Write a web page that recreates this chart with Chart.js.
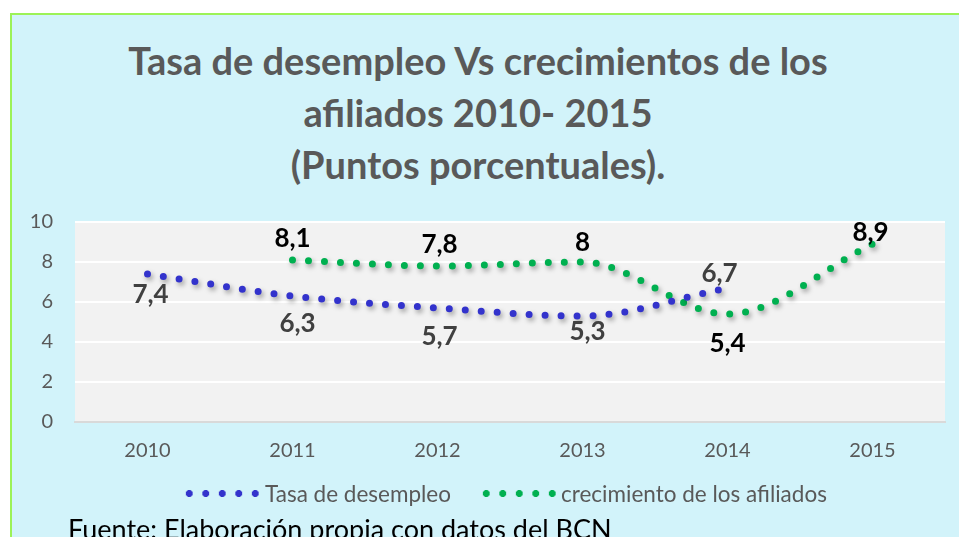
<!DOCTYPE html>
<html>
<head>
<meta charset="utf-8">
<script src="https://cdn.jsdelivr.net/npm/chart.js@4/dist/chart.umd.min.js"></script>
<style>
  html, body { margin: 0; padding: 0; background: #fff; overflow: hidden; }
  body { width: 959px; height: 537px; position: relative; font-family: Lato, "Open Sans", sans-serif; }
  #panel { position: absolute; left: 10px; top: 13px; width: 960px; height: 540px;
           background: #d2f3fa; border-left: 2px solid #9cf257; border-top: 2px solid #9cf257; }
  #title { position: absolute; left: 0; top: 34px; width: 956px; text-align: center;
           font-weight: bold; font-size: 38px; line-height: 52px; color: #595959; }
  #chartBox { position: absolute; left: 0; top: 0; width: 959px; height: 537px; }
  .dots { position: absolute; top: 489.5px; width: 82.5px; height: 7px;
          background-size: 16.5px 7px; background-repeat: repeat-x; }
  .ltext { position: absolute; top: 482px; line-height: 24px; font-size: 22.5px; color: #595959; white-space: nowrap; }
  #footer { position: absolute; left: 68px; top: 515px; font-size: 27px; line-height: 27px; color: #000; white-space: nowrap; }
</style>
</head>
<body>
<div id="panel"></div>
<div id="title">Tasa de desempleo Vs crecimientos de los<br>afiliados 2010- 2015<br>(Puntos porcentuales).</div>
<div id="chartBox"><canvas id="chart" width="959" height="537"></canvas></div>
<div class="dots" id="dotsA" style="left:181px"></div>
<div class="ltext" style="left:265px">Tasa de desempleo</div>
<div class="dots" id="dotsB" style="left:478px"></div>
<div class="ltext" style="left:561px">crecimiento de los afiliados</div>
<div id="footer">Fuente: Elaboración propia con datos del BCN</div>
<script>
// chart data
const years = ['2010', '2011', '2012', '2013', '2014', '2015'];
const desempleo = [7.4, 6.3, 5.7, 5.3, 6.7, null];
const afiliados = [null, 8.1, 7.8, 8, 5.4, 8.9];
const yTicks = [0, 2, 4, 6, 8, 10];

const blue = '#3333cc';
const green = '#00b050';

document.getElementById('dotsA').style.backgroundImage = `radial-gradient(circle, ${blue} 3.2px, transparent 3.8px)`;
document.getElementById('dotsB').style.backgroundImage = `radial-gradient(circle, ${green} 3.2px, transparent 3.8px)`;

// label nudges (dx, dy) relative to each point
const labelPos = [
  [[3, 21], [5, 28], [2, 29], [5, 16], [-8, -14], null],
  [null, [0, -21], [2, -21], [0, -19], [0, 30], [-2, -11]]
];
const labelColor = ['#404040', '#000000'];

const plotBg = {
  id: 'plotBg',
  beforeDraw(chart) {
    const a = chart.chartArea, ctx = chart.ctx;
    ctx.save();
    ctx.fillStyle = '#f2f2f2';
    ctx.fillRect(a.left, a.top, a.right - a.left, a.bottom - a.top);
    ctx.restore();
  }
};

const shadow = {
  id: 'shadow',
  beforeDatasetDraw(chart) {
    const ctx = chart.ctx;
    ctx.save();
    ctx.shadowColor = 'rgba(0,0,0,0.35)';
    ctx.shadowBlur = 5;
    ctx.shadowOffsetX = 2;
    ctx.shadowOffsetY = 3;
  },
  afterDatasetDraw(chart) {
    chart.ctx.restore();
  }
};

const valueLabels = {
  id: 'valueLabels',
  afterDatasetsDraw(chart) {
    const ctx = chart.ctx;
    ctx.save();
    ctx.font = 'bold 26px Lato, "Open Sans", sans-serif';
    ctx.textAlign = 'center';
    ctx.textBaseline = 'middle';
    chart.data.datasets.forEach((ds, i) => {
      const meta = chart.getDatasetMeta(i);
      ctx.fillStyle = labelColor[i];
      ds.data.forEach((v, j) => {
        if (v === null) return;
        const p = meta.data[j];
        const off = labelPos[i][j] || [0, -20];
        ctx.fillText(String(v).replace('.', ','), p.x + off[0], p.y + off[1]);
      });
    });
    ctx.restore();
  }
};

const ctx = document.getElementById('chart').getContext('2d');
new Chart(ctx, {
  type: 'line',
  data: {
    labels: years,
    datasets: [
      {
        label: 'Tasa de desempleo',
        data: desempleo,
        borderColor: blue,
        borderWidth: 7,
        borderDash: [0, 16],
        borderCapStyle: 'round',
        pointRadius: 0,
        cubicInterpolationMode: 'monotone',
        fill: false
      },
      {
        label: 'crecimiento de los afiliados',
        data: afiliados,
        borderColor: green,
        borderWidth: 7,
        borderDash: [0, 16],
        borderCapStyle: 'round',
        pointRadius: 0,
        cubicInterpolationMode: 'monotone',
        fill: false
      }
    ]
  },
  options: {
    responsive: false,
    animation: false,
    events: [],
    layout: { padding: { left: 20, right: 14, top: 222, bottom: 70 } },
    plugins: {
      legend: { display: false },
      title: { display: false },
      tooltip: { enabled: false }
    },
    scales: {
      x: {
        offset: true,
        grid: { display: false, drawTicks: false },
        border: { color: '#d9d9d9', width: 2 },
        ticks: { color: '#595959', font: { family: 'Lato', size: 20 }, padding: 17 },
        afterFit(s) { s.height = 45; }
      },
      y: {
        min: 0,
        max: 10,
        afterBuildTicks(s) { s.ticks = yTicks.map(v => ({ value: v })); },
        grid: { color: '#ffffff', lineWidth: 2, drawTicks: false },
        border: { display: false },
        ticks: { color: '#595959', font: { family: 'Lato', size: 20 }, padding: 22 },
        afterFit(s) { s.width = 55; }
      }
    }
  },
  plugins: [plotBg, shadow, valueLabels]
});
</script>
</body>
</html>
